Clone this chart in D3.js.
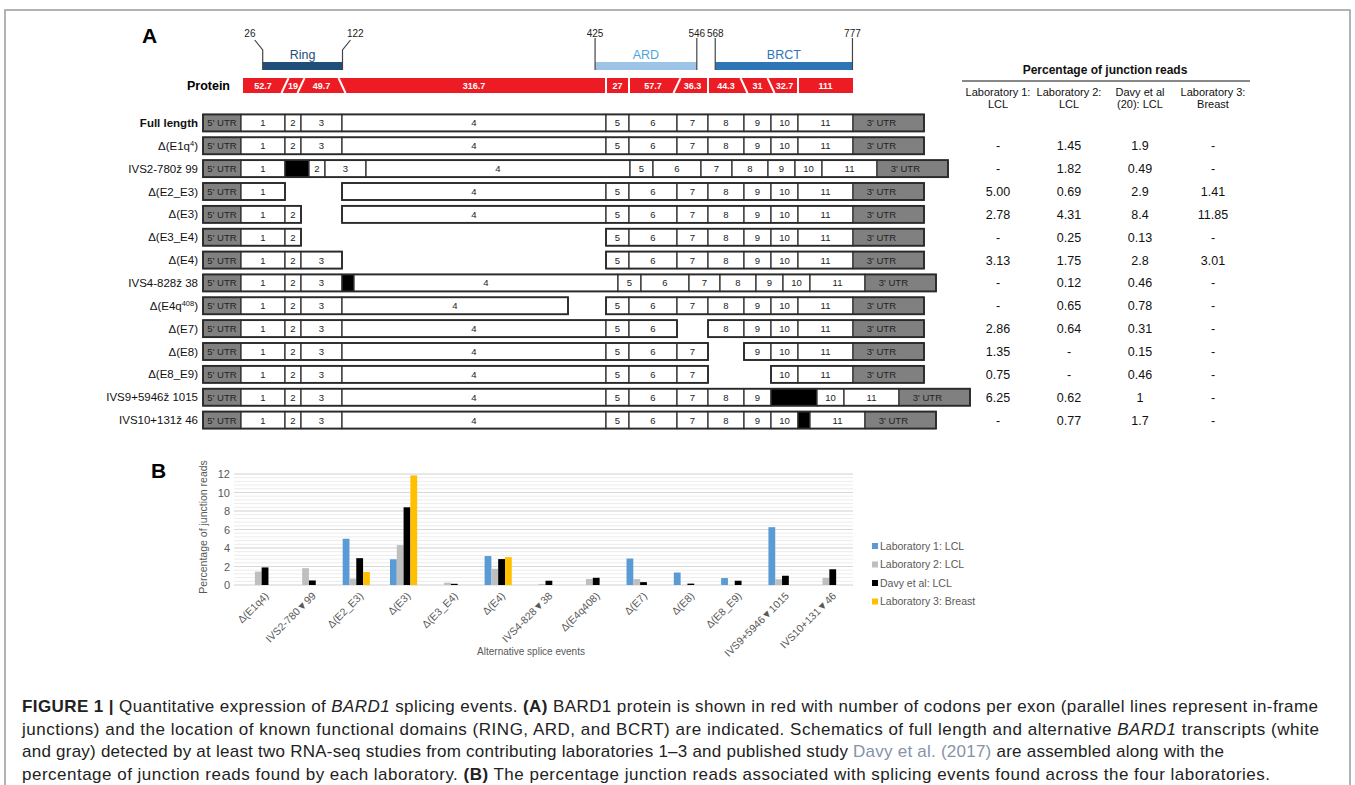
<!DOCTYPE html>
<html>
<head>
<meta charset="utf-8">
<script src="https://cdn.jsdelivr.net/npm/d3@7"></script>
<style>
body { margin: 0; background: #fff; }
svg { font-family: "Liberation Sans", Arial, sans-serif; }
</style>
</head>
<body>
<svg width="1355" height="785"></svg>
<script>
// ---- panel A : exon schematic ----
const segNames = ["5' UTR", '1', '2', '3', '4', '5', '6', '7', '8', '9', '10', '11', "3' UTR"];
const segUnits = [38, 44, 16, 41, 264, 23, 48, 31, 36, 27, 27, 55, 71]; // drawn size of each block
const codons = [52.7, 19, 49.7, 316.7, 27, 57.7, 36.3, 44.3, 31, 32.7, 111];
const junctions = ['/', '/', '\\', '|', '|', '/', '|', '\\', '\\', '|']; // between exon k and k+1

const domainNames = ['Ring', 'ARD', 'BRCT'];
const domainStart = [26, 425, 568];
const domainEnd = [122, 546, 777];

const transcripts = ['Full length', 'Δ(E1q^{4})', 'IVS2-780ž 99', 'Δ(E2_E3)', 'Δ(E3)', 'Δ(E3_E4)', 'Δ(E4)',
    'IVS4-828ž 38', 'Δ(E4q^{408})', 'Δ(E7)', 'Δ(E8)', 'Δ(E8_E9)', 'IVS9+5946ž 1015', 'IVS10+131ž 46'];
const skipped = [[], [], [], [2, 3], [3], [3, 4], [4], [], [], [7], [8], [8, 9], [], []];
const insertAfter = [null, null, 1, null, null, null, null, 3, null, null, null, null, 9, 10];
const insertUnits = [0, 0, 24, 0, 0, 0, 0, 12, 0, 0, 0, 0, 46, 12];
const trimUnits = [0, 0, 0, 0, 0, 0, 0, 0, 38, 0, 0, 0, 0, 0]; // exon 4 shortened

// ---- junction reads (%) ----
const labs = ['Laboratory 1: LCL', 'Laboratory 2: LCL', 'Davy et al: LCL', 'Laboratory 3: Breast'];
const tableHead = [['Laboratory 1:', 'LCL'], ['Laboratory 2:', 'LCL'], ['Davy et al', '(20): LCL'], ['Laboratory 3:', 'Breast']];
const lab1 = [null, null, null, 5.00, 2.78, null, 3.13, null, null, 2.86, 1.35, 0.75, 6.25, null];
const lab2 = [null, 1.45, 1.82, 0.69, 4.31, 0.25, 1.75, 0.12, 0.65, 0.64, null, null, 0.62, 0.77];
const davy = [null, 1.9, 0.49, 2.9, 8.4, 0.13, 2.8, 0.46, 0.78, 0.31, 0.15, 0.46, 1, 1.7];
const lab3 = [null, null, null, 1.41, 11.85, null, 3.01, null, null, null, null, null, null, null];

// ---- panel B ----
const chartLabels = ['Δ(E1q4)', 'IVS2-780▼99', 'Δ(E2_E3)', 'Δ(E3)', 'Δ(E3_E4)', 'Δ(E4)', 'IVS4-828▼38',
    'Δ(E4q408)', 'Δ(E7)', 'Δ(E8)', 'Δ(E8_E9)', 'IVS9+5946▼1015', 'IVS10+131▼46'];
const yTicks = [0, 2, 4, 6, 8, 10, 12];

const svg = d3.select('svg');
const labColors = ['#5b9bd5', '#bfbfbf', '#000000', '#ffc000'];
const domainFill = ['#1f4e79', '#9dc3e6', '#2e75b6'];
const domainText = ['#1f4e79', '#4ea3dc', '#2e75b6'];

// frame
svg.append('rect').attr('x', 5).attr('y', 10).attr('width', 1345).attr('height', 790)
    .attr('fill', 'none').attr('stroke', '#9a9a9a').attr('stroke-width', 1.5);

svg.append('text').attr('x', 142).attr('y', 43).attr('font-size', 21).attr('font-weight', 'bold').text('A');
svg.append('text').attr('x', 151).attr('y', 478).attr('font-size', 21).attr('font-weight', 'bold').text('B');

// scales for schematic
const cum = [0];
segUnits.forEach(u => cum.push(cum[cum.length - 1] + u));
const xs = d3.scaleLinear().domain([0, cum[cum.length - 1]]).range([203, 924]);

const codCum = [0];
codons.forEach(c => codCum.push(codCum[codCum.length - 1] + c));
const xCod = d3.scaleLinear().domain(codCum).range(codCum.map((c, i) => xs(cum[i + 1])));

const rowY = d3.scaleBand().domain(transcripts).range([111.5, 431.5]);
const boxH = 17;

// protein bar
const pTop = 78, pBot = 93;
svg.append('text').attr('x', 230).attr('y', pBot - 3).attr('text-anchor', 'end')
    .attr('font-size', 12.5).attr('font-weight', 'bold').text('Protein');
svg.append('rect').attr('x', xs(cum[1]) + 2).attr('y', pTop)
    .attr('width', xs(cum[12]) - xs(cum[1]) - 2).attr('height', pBot - pTop).attr('fill', '#ed1c24');
const gJ = svg.append('g').attr('stroke', '#fff').attr('stroke-width', 2);
junctions.forEach((j, k) => {
    const x = xs(cum[k + 2]);
    let x1 = x, x2 = x;
    if (j === '/') { x1 = x - 3.5; x2 = x + 3.5; }
    if (j === '\\') { x1 = x + 3.5; x2 = x - 3.5; }
    gJ.append('line').attr('x1', x1).attr('y1', pBot).attr('x2', x2).attr('y2', pTop);
});
svg.append('g').selectAll('text').data(codons).enter().append('text')
    .attr('x', (d, k) => (xs(cum[k + 1]) + xs(cum[k + 2])) / 2)
    .attr('y', pBot - 4)
    .attr('text-anchor', 'middle').attr('fill', '#fff').attr('font-size', 9).attr('font-weight', 'bold')
    .text(d => d);

// functional domains
const gD = svg.append('g');
domainNames.forEach((name, i) => {
    const x0 = xCod(domainStart[i]), x1 = xCod(domainEnd[i]);
    gD.append('rect').attr('x', x0).attr('y', 62).attr('width', x1 - x0).attr('height', 8)
        .attr('fill', domainFill[i]);
    gD.append('text').attr('x', (x0 + x1) / 2).attr('y', 59).attr('text-anchor', 'middle')
        .attr('font-size', 12.5).attr('fill', domainText[i]).text(name);
    const splay = i === 0 ? 8 : 0;
    [[x0, -splay, domainStart[i]], [x1, splay, domainEnd[i]]].forEach(([x, dx, lab]) => {
        const pts = splay ? [[x, 70], [x, 50], [x + dx, 40]] : [[x, 70], [x, 38]];
        gD.append('path').attr('d', d3.line()(pts)).attr('fill', 'none')
            .attr('stroke', '#444').attr('stroke-width', 1.2);
        gD.append('text').attr('x', x + dx * 1.6).attr('y', 37)
            .attr('text-anchor', 'middle').attr('font-size', 10).attr('fill', '#222').text(lab);
    });
});

// transcripts
function rowSegments(r) {
    const segs = [];
    let shift = 0;
    segNames.forEach((name, i) => {
        const u0 = cum[i] + shift;
        let u1 = cum[i + 1] + shift;
        if (i === 4) u1 -= trimUnits[r];
        if (!skipped[r].includes(i)) {
            segs.push({ name, i, u0, u1, kind: i === 0 ? 'utr5' : i === 12 ? 'utr3' : 'exon' });
        }
        if (insertAfter[r] === i) {
            segs.push({ name: '', i, u0: cum[i + 1] + shift, u1: cum[i + 1] + shift + insertUnits[r], kind: 'ins' });
            shift += insertUnits[r];
        }
    });
    return segs;
}

function richLabel(sel, str) {
    const m = str.match(/^(.*)\^\{(.*)\}(.*)$/);
    if (!m) { sel.text(str); return; }
    sel.append('tspan').text(m[1]);
    sel.append('tspan').attr('font-size', '0.65em').attr('dy', -4).text(m[2]);
    sel.append('tspan').attr('dy', 4).text(m[3]);
}

const fills = { utr5: '#808080', utr3: '#808080', exon: '#fff', ins: '#000' };
transcripts.forEach((t, r) => {
    const yc = rowY(t) + rowY.bandwidth() / 2;
    const g = svg.append('g');
    const lab = g.append('text').attr('x', 198).attr('y', yc + 4).attr('text-anchor', 'end')
        .attr('font-size', 11.5).attr('fill', '#111').attr('font-weight', r === 0 ? 'bold' : 'normal');
    richLabel(lab, t);

    const segs = rowSegments(r);
    g.selectAll('rect.seg').data(segs).enter().append('rect')
        .attr('class', 'seg')
        .attr('x', d => xs(d.u0)).attr('y', yc - boxH / 2)
        .attr('width', d => xs(d.u1) - xs(d.u0)).attr('height', boxH)
        .attr('fill', d => fills[d.kind]).attr('stroke', '#333').attr('stroke-width', 1.3);

    // outer outline of each contiguous run
    const runs = [];
    segs.forEach(s => {
        const last = runs[runs.length - 1];
        if (last && Math.abs(last.u1 - s.u0) < 0.01) last.u1 = s.u1;
        else runs.push({ u0: s.u0, u1: s.u1 });
    });
    g.selectAll('rect.run').data(runs).enter().append('rect')
        .attr('class', 'run')
        .attr('x', d => xs(d.u0)).attr('y', yc - boxH / 2)
        .attr('width', d => xs(d.u1) - xs(d.u0)).attr('height', boxH)
        .attr('fill', 'none').attr('stroke', '#2a2a2a').attr('stroke-width', 1.8);

    g.selectAll('text.seg').data(segs.filter(s => s.kind !== 'ins')).enter().append('text')
        .attr('class', 'seg')
        .attr('x', d => {
            const a = xs(d.u0), b = xs(d.u1);
            return d.kind === 'utr3' ? a + (b - a) * 0.4 : (a + b) / 2;
        })
        .attr('y', yc + 3.5).attr('text-anchor', 'middle')
        .attr('font-size', 9.5).attr('fill', '#222')
        .text(d => d.name);
});

// table of junction reads
const colX = [998, 1069, 1140, 1213];
const cols = [lab1, lab2, davy, lab3];
const fmts = [d3.format('.2f'), d3.format('.2f'), v => String(v), d3.format('.2f')];
svg.append('text').attr('x', 1105).attr('y', 74).attr('text-anchor', 'middle')
    .attr('font-size', 12).attr('font-weight', 'bold').attr('fill', '#111').text('Percentage of junction reads');
svg.append('line').attr('x1', 962).attr('x2', 1250).attr('y1', 81).attr('y2', 81)
    .attr('stroke', '#111').attr('stroke-width', 1);
tableHead.forEach((h, c) => {
    h.forEach((line, k) => {
        svg.append('text').attr('x', colX[c]).attr('y', 96 + k * 12).attr('text-anchor', 'middle')
            .attr('font-size', 11).attr('fill', '#111').text(line);
    });
});
cols.forEach((vals, c) => {
    svg.append('g').selectAll('text').data(vals.slice(1)).enter().append('text')
        .attr('x', colX[c])
        .attr('y', (d, i) => rowY(transcripts[i + 1]) + rowY.bandwidth() / 2 + 4.5)
        .attr('text-anchor', 'middle').attr('font-size', 12.5).attr('fill', '#111')
        .text(d => d == null ? '-' : fmts[c](d));
});

// ---- panel B : grouped bars ----
const x0 = d3.scaleBand().domain(chartLabels).range([238, 853]);
const x1 = d3.scaleBand().domain(labs).range([x0.bandwidth() / 2 - 13.6, x0.bandwidth() / 2 + 13.6]);
const y = d3.scaleLinear().domain([0, 12]).range([585, 474]);

const gB = svg.append('g');
gB.selectAll('line.minor').data(d3.range(0, 12.001, 0.4)).enter().append('line')
    .attr('x1', 234).attr('x2', 853).attr('y1', d => y(d)).attr('y2', d => y(d))
    .attr('stroke', '#ececec').attr('stroke-width', 1);
gB.selectAll('line.major').data(yTicks).enter().append('line')
    .attr('x1', 234).attr('x2', 853).attr('y1', d => y(d)).attr('y2', d => y(d))
    .attr('stroke', '#d9d9d9').attr('stroke-width', 1.2);

const yAxis = gB.append('g').attr('transform', 'translate(233,0)')
    .call(d3.axisLeft(y).tickValues(yTicks).tickSize(0).tickPadding(3));
yAxis.select('.domain').remove();
yAxis.selectAll('text').attr('font-size', 11).attr('fill', '#595959').attr('font-family', 'Liberation Sans, Arial, sans-serif');

const series = [lab1, lab2, davy, lab3];
const barData = [];
chartLabels.forEach((c, i) => {
    series.forEach((s, k) => {
        const v = s[i + 1];
        if (v != null) barData.push({ cat: c, lab: labs[k], k, v });
    });
});
gB.selectAll('rect.bar').data(barData).enter().append('rect')
    .attr('class', 'bar')
    .attr('x', d => x0(d.cat) + x1(d.lab)).attr('width', x1.bandwidth())
    .attr('y', d => y(d.v)).attr('height', d => y(0) - y(d.v))
    .attr('fill', d => labColors[d.k]);

const xAxis = gB.append('g').attr('transform', `translate(0,${y(0)})`)
    .call(d3.axisBottom(x0).tickSize(0));
xAxis.select('.domain').remove();
xAxis.selectAll('text')
    .attr('x', 0).attr('y', 0).attr('dy', '0.35em')
    .attr('transform', 'translate(5,9) rotate(-45)')
    .attr('text-anchor', 'end').attr('font-size', 10.5).attr('fill', '#595959')
    .attr('font-family', 'Liberation Sans, Arial, sans-serif');

gB.append('text').attr('transform', 'translate(207,527) rotate(-90)').attr('text-anchor', 'middle')
    .attr('font-size', 10.5).attr('fill', '#595959').text('Percentage of junction reads');
gB.append('text').attr('x', 531).attr('y', 655).attr('text-anchor', 'middle')
    .attr('font-size', 10).attr('fill', '#595959').text('Alternative splice events');

const legend = gB.append('g').attr('transform', 'translate(872,546)');
labs.forEach((l, i) => {
    legend.append('rect').attr('x', 0).attr('y', i * 18.5 - 3).attr('width', 6).attr('height', 6).attr('fill', labColors[i]);
    legend.append('text').attr('x', 8).attr('y', i * 18.5 + 3.5).attr('font-size', 10.5).attr('fill', '#595959').text(l);
});

// ---- caption ----
const captionLines = [
    [['FIGURE 1 | ', 'b'], ['Quantitative expression of '], ['BARD1', 'i'], [' splicing events. '], ['(A)', 'b'],
        [' BARD1 protein is shown in red with number of codons per exon (parallel lines represent in-frame']],
    [['junctions) and the location of known functional domains (RING, ARD, and BCRT) are indicated. Schematics of full length and alternative '],
        ['BARD1', 'i'], [' transcripts (white']],
    [['and gray) detected by at least two RNA-seq studies from contributing laboratories 1–3 and published study '],
        ['Davy et al. (2017)', 'l'], [' are assembled along with the']],
    [['percentage of junction reads found by each laboratory. '], ['(B)', 'b'],
        [' The percentage junction reads associated with splicing events found across the four laboratories.']]
];
const captionEnd = [1318, 1319, 1224, 1270];
captionLines.forEach((parts, i) => {
    const t = svg.append('text').attr('x', 22).attr('y', 712 + i * 22.6)
        .attr('font-size', 17).attr('fill', '#222')
        .attr('textLength', captionEnd[i] - 22).attr('lengthAdjust', 'spacing')
        .style('white-space', 'pre');
    parts.forEach(([s, st]) => {
        const ts = t.append('tspan').text(s);
        if (st === 'b') ts.attr('font-weight', 'bold');
        if (st === 'i') ts.attr('font-style', 'italic');
        if (st === 'l') ts.attr('fill', '#8593a8');
    });
});
</script>
</body>
</html>
